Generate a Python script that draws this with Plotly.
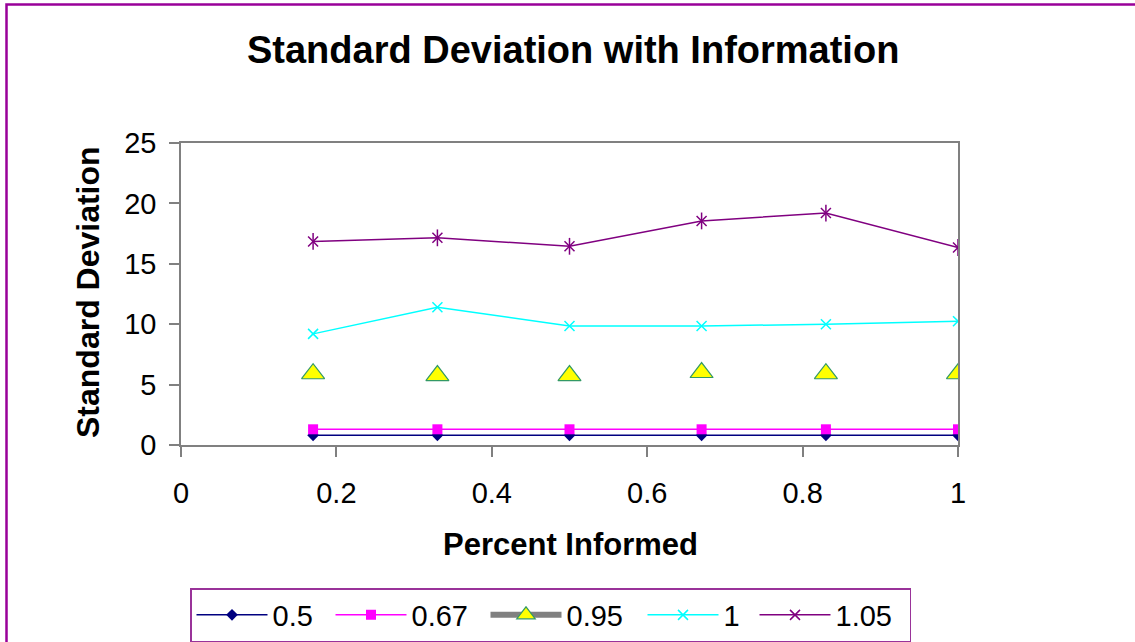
import plotly.graph_objects as go

# ---- data ----
percent_informed = [0.17, 0.33, 0.5, 0.67, 0.83, 1.0]
sd_050 = [0.8, 0.8, 0.8, 0.8, 0.8, 0.8]
sd_067 = [1.3, 1.3, 1.3, 1.3, 1.3, 1.3]
sd_095 = [5.9, 5.75, 5.75, 6.0, 5.9, 5.9]
sd_100 = [9.2, 11.4, 9.85, 9.85, 10.0, 10.25]
sd_105 = [16.85, 17.15, 16.45, 18.55, 19.2, 16.35]
series_names = ["0.5", "0.67", "0.95", "1", "1.05"]
x_ticks = [0, 0.2, 0.4, 0.6, 0.8, 1]
y_ticks = [0, 5, 10, 15, 20, 25]

FONT = "Liberation Sans, Arial, sans-serif"

fig = go.Figure()

fig.add_trace(go.Scatter(
    x=percent_informed, y=sd_050, name=series_names[0], mode="lines+markers",
    legendwidth=53,
    line=dict(color="#000080", width=1.5),
    marker=dict(symbol="diamond", size=9, color="#000080")))
fig.add_trace(go.Scatter(
    x=percent_informed, y=sd_067, name=series_names[1], mode="lines+markers",
    legendwidth=69,
    line=dict(color="#FF00FF", width=1.5),
    marker=dict(symbol="square", size=10, color="#FF00FF")))
# legend-only entry for 0.95 (grey thick line in legend, markers only in plot)
fig.add_trace(go.Scatter(
    x=[None], y=[None], name=series_names[2], mode="lines+markers",
    legendgroup="g095", legendwidth=71,
    line=dict(color="#808080", width=6),
    marker=dict(symbol="triangle-up", size=20, color="#FFFF00",
                line=dict(color="#339966", width=1.2))))
fig.add_trace(go.Scatter(
    x=percent_informed, y=sd_095, name=series_names[2], mode="markers",
    legendgroup="g095", showlegend=False,
    marker=dict(symbol="triangle-up", size=20, color="#FFFF00",
                line=dict(color="#339966", width=1.2))))
fig.add_trace(go.Scatter(
    x=percent_informed, y=sd_100, name=series_names[3], mode="lines+markers",
    legendwidth=26,
    line=dict(color="#00FFFF", width=1.5),
    marker=dict(symbol="x-thin-open", size=10, color="#00FFFF",
                line=dict(color="#00FFFF", width=1.5))))
fig.add_trace(go.Scatter(
    x=percent_informed, y=sd_105, name=series_names[4], mode="lines+markers",
    legendgroup="g105", legendwidth=69,
    line=dict(color="#800080", width=1.5),
    marker=dict(symbol="x-thin-open", size=10, color="#800080",
                line=dict(color="#800080", width=1.5))))
fig.add_trace(go.Scatter(
    x=percent_informed, y=sd_105, name=series_names[4], mode="markers",
    legendgroup="g105", showlegend=False,
    marker=dict(symbol="line-ns-open", size=12, color="#800080",
                line=dict(color="#800080", width=1.5))))

fig.update_layout(
    width=1135, height=642,
    margin=dict(l=181, r=177, t=143, b=197, autoexpand=False),
    paper_bgcolor="white", plot_bgcolor="white",
    font=dict(family=FONT, color="black", size=29),
    title=dict(text="<b>Standard Deviation with Information</b>",
               font=dict(size=38, family=FONT, color="black"),
               x=0.505, xanchor="center", xref="container",
               y=1 - 50 / 642, yanchor="middle", yref="container"),
    showlegend=True,
    legend=dict(orientation="h", xref="container", yref="container",
                x=190 / 1135, xanchor="left", y=1 - 588 / 642, yanchor="top",
                bordercolor="#993399", borderwidth=1.5, bgcolor="white",
                font=dict(size=29, family=FONT, color="black"),
                itemwidth=71, traceorder="normal"),
    xaxis=dict(range=[0, 1], tickvals=x_ticks, showgrid=False, zeroline=False,
               showline=True, linecolor="#808080", linewidth=1.5, mirror=True,
               ticks="outside", ticklen=10, tickcolor="#808080", tickwidth=1.5,
               tickfont=dict(size=29), ticklabelstandoff=11, automargin=False),
    yaxis=dict(range=[0, 25], tickvals=y_ticks, showgrid=False, zeroline=False,
               showline=True, linecolor="#808080", linewidth=1.5, mirror=True,
               ticks="outside", ticklen=10, tickcolor="#808080", tickwidth=1.5,
               tickfont=dict(size=29), ticklabelstandoff=7, automargin=False),
    annotations=[
        dict(text="<b>Standard Deviation</b>", xref="paper", yref="paper",
             x=(88 - 181) / 777, y=(445 - 292) / 302, textangle=-90,
             showarrow=False, font=dict(size=32, family=FONT, color="black"),
             xanchor="center", yanchor="middle"),
        dict(text="<b>Percent Informed</b>", xref="paper", yref="paper",
             x=(570 - 181) / 777, y=(445 - 544) / 302,
             showarrow=False, font=dict(size=31, family=FONT, color="black"),
             xanchor="center", yanchor="middle"),
    ],
    shapes=[
        dict(type="rect", xref="paper", yref="paper",
             x0=(6.5 - 181) / 777, x1=1.4, y0=-0.8, y1=(445 - 4.5) / 302,
             line=dict(color="#990099", width=2.5), fillcolor="rgba(0,0,0,0)",
             layer="below"),
    ],
)

fig.write_html("out.html",
               config={"displayModeBar": False, "responsive": False},
               post_script="document.body.style.margin='0px';"
                           "document.body.style.overflow='hidden';")
